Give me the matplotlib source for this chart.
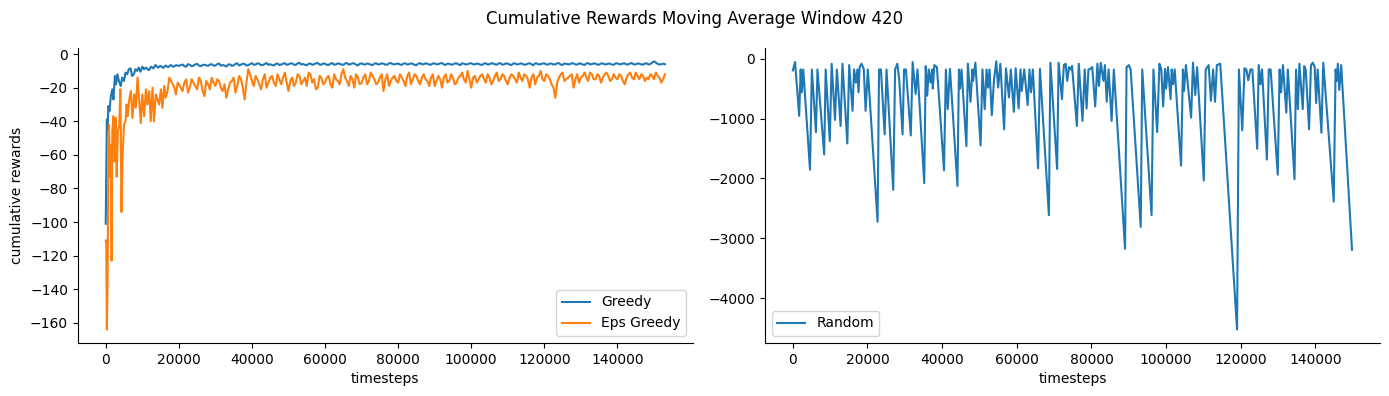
import numpy as np
import matplotlib
matplotlib.use("Agg")
import matplotlib.pyplot as plt

# ---------------- data (timesteps in thousands) ----------------
greedy_early_k = [0, 0.3, 0.5, 0.7, 1.0, 1.4, 1.8, 2.1, 2.5, 2.8, 3.2, 3.6, 4.1, 4.5, 5.0, 5.4,
                  5.9, 6.3, 6.8, 7.2, 7.7, 8.1, 8.6, 9.0, 9.5, 10.0, 10.5, 11.0, 11.8, 12.4,
                  13.0, 13.6, 14.3, 15.0, 15.7, 16.4, 17.1, 17.8, 18.5, 19.2]
greedy_early = [-101, -39, -45, -31, -34, -25, -21, -27, -13, -18, -12, -16, -19, -14, -16, -11,
                -12, -9, -8.5, -13, -12, -9, -10, -8, -10.5, -7.5, -9, -8, -9.6, -7.5,
                -8.5, -6.5, -8, -7, -8.2, -6.8, -7.8, -6.5, -7.6, -6.6]

eps_early_k = [0, 0.15, 0.3, 0.5, 0.7, 0.9, 1.1, 1.4, 1.6, 1.8, 2.1, 2.4, 2.7, 3.0, 3.3, 3.7,
               4.0, 4.3, 4.6, 5.0, 5.4, 5.7, 6.0, 6.5, 6.9, 7.3, 7.8, 8.2, 8.7, 9.1, 9.6,
               10.0, 10.5, 11.0, 11.4, 11.9, 12.3, 12.8, 13.2, 13.7, 14.6, 15.1, 15.5,
               16.0, 16.4, 16.9, 17.4, 18.1, 18.8, 19.2, 19.7]
eps_early = [-111, -113, -164, -137, -67, -42, -73, -54, -123, -46, -37, -64, -38, -73, -46, -42,
             -21, -94, -60, -42, -40, -30, -37, -26, -22, -38, -24, -32, -14, -26, -41,
             -24, -37, -21, -30, -22, -40, -20, -40, -24, -30, -21, -32,
             -19, -26, -22, -14, -17, -20, -24, -17]

late_k = [20, 21, 22, 23, 24, 25, 26, 27, 28, 29, 30, 31, 32, 33, 34, 35, 36, 37, 38, 39,
          40, 41, 42, 43, 44, 45, 46, 47, 48, 49, 50, 51, 52, 53, 54, 55, 56, 57, 58, 59,
          60, 61, 62, 63, 64, 65, 66, 67, 68, 69, 70, 71, 72, 73, 74, 75, 76, 77, 78, 79,
          80, 81, 82, 83, 84, 85, 86, 87, 88, 89, 90, 91, 92, 93, 94, 95, 96, 97, 98, 99,
          100, 101, 102, 103, 104, 105, 106, 107, 108, 109, 110, 111, 112, 113, 114, 115,
          116, 117, 118, 119, 120, 121, 122, 123, 124, 125, 126, 127, 128, 129, 130, 131,
          132, 133, 134, 135, 136, 137, 138, 139, 140, 141, 142, 143, 144, 145, 146, 147,
          148, 149, 150, 151, 152, 153]

half_k = [20.5, 21.5, 22.5, 23.5, 24.5, 25.5, 26.5, 27.5, 28.5, 29.5, 30.5, 31.5, 32.5, 33.5,
          34.5, 35.5, 36.5, 37.5, 38.5, 39.5, 40.5, 41.5, 42.5, 43.5, 44.5, 45.5, 46.5, 47.5,
          48.5, 49.5, 50.5, 51.5, 52.5, 53.5, 54.5, 55.5, 56.5, 57.5, 58.5, 59.5, 60.5, 61.5,
          62.5, 63.5, 64.5, 65.5, 66.5, 67.5, 68.5, 69.5, 70.5, 71.5, 72.5, 73.5, 74.5, 75.5,
          76.5, 77.5, 78.5, 79.5, 80.5, 81.5, 82.5, 83.5, 84.5, 85.5, 86.5, 87.5, 88.5, 89.5,
          90.5, 91.5, 92.5, 93.5, 94.5, 95.5, 96.5, 97.5, 98.5, 99.5, 100.5, 101.5, 102.5,
          103.5, 104.5, 105.5, 106.5, 107.5, 108.5, 109.5, 110.5, 111.5, 112.5, 113.5, 114.5,
          115.5, 116.5, 117.5, 118.5, 119.5, 120.5, 121.5, 122.5, 123.5, 124.5, 125.5, 126.5,
          127.5, 128.5, 129.5, 130.5, 131.5, 132.5, 133.5, 134.5, 135.5, 136.5, 137.5, 138.5,
          139.5, 140.5, 141.5, 142.5, 143.5, 144.5, 145.5, 146.5, 147.5, 148.5, 149.5, 150.5,
          151.5, 152.5]

greedy_late = [-7.0, -6.2, -7.5, -6.4, -6.9, -5.8, -7.2, -6.3, -7.0, -6.0,
               -6.8, -5.6, -6.5, -7.4, -6.1, -6.7, -5.5, -6.3, -5.9, -6.6,
               -5.4, -6.2, -5.7, -6.5, -5.3, -6.0, -6.8, -5.6, -6.2, -5.4,
               -6.1, -5.5, -6.4, -5.2, -5.9, -6.6, -5.6, -6.0, -5.3, -6.3,
               -5.7, -6.5, -5.4, -6.1, -5.8, -6.4, -5.3, -6.0, -5.6, -6.7,
               -5.5, -6.2, -5.8, -6.5, -5.4, -6.0, -5.7, -6.3, -5.3, -6.1,
               -5.6, -6.4, -5.5, -6.0, -5.8, -6.6, -5.4, -6.1, -5.7, -6.3,
               -5.5, -6.0, -5.3, -6.4, -5.8, -6.1, -5.5, -6.5, -5.7, -6.0,
               -5.4, -6.2, -5.8, -6.4, -5.5, -6.0, -5.6, -6.3, -5.4, -6.1,
               -5.7, -6.5, -5.5, -6.0, -5.8, -6.2, -5.4, -6.6, -5.6, -6.0,
               -5.5, -6.3, -5.7, -6.1, -5.4, -6.4, -5.8, -6.0, -5.5, -6.2,
               -5.6, -6.5, -5.4, -6.0, -5.7, -6.3, -5.5, -6.1, -5.8, -6.4,
               -5.5, -6.0, -5.6, -6.2, -5.4, -6.1, -5.7, -6.3, -5.5, -5.9,
               -4.3, -5.8, -6.1, -6.0]

greedy_half = [-6.6, -7.1, -6.0, -7.2, -6.1, -6.8, -6.5, -6.7, -6.2, -6.9,
               -6.0, -6.9, -6.8, -6.2, -7.0, -5.8, -6.8, -5.7, -6.8, -5.9,
               -6.3, -5.5, -6.6, -5.9, -6.4, -6.5, -5.9, -6.5, -5.7, -6.4,
               -5.6, -6.3, -5.5, -6.2, -6.4, -5.8, -6.4, -5.5, -6.2, -5.6,
               -6.4, -5.6, -6.3, -5.5, -6.2, -5.6, -6.3, -5.5, -6.3, -5.8,
               -6.1, -5.6, -6.3, -5.7, -6.2, -5.5, -6.3, -5.5, -6.0, -5.8,
               -6.2, -5.6, -6.2, -5.5, -6.4, -5.7, -6.0, -5.5, -6.2, -5.6,
               -6.1, -5.5, -6.2, -5.7, -6.3, -5.6, -6.1, -5.5, -6.2, -5.6,
               -6.0, -5.6, -6.3, -5.6, -6.2, -5.5, -6.1, -5.6, -6.3, -5.5,
               -6.2, -5.6, -6.2, -5.5, -6.3, -5.7, -6.1, -5.5, -6.2, -5.6,
               -6.1, -5.6, -6.2, -5.5, -6.3, -5.6, -6.1, -5.5, -6.2, -5.6,
               -6.2, -5.6, -6.1, -5.5, -6.2, -5.6, -6.1, -5.6, -6.2, -5.5,
               -6.1, -5.6, -6.1, -5.5, -6.2, -5.6, -6.1, -5.6, -6.2, -5.1,
               -5.0, -6.2, -5.7]

eps_late = [-18, -22, -15, -20, -17, -21, -16, -25, -18, -14,
            -19, -16, -22, -26, -17, -14, -19, -15, -27, -9,
            -16, -13, -18, -15, -20, -14, -17, -12, -18, -11,
            -22, -14, -17, -13, -16, -19, -12, -15, -20, -14,
            -17, -13, -20, -15, -18, -9, -16, -13, -20, -14,
            -17, -12, -16, -13, -18, -14, -22, -12, -16, -13,
            -17, -14, -19, -11, -15, -13, -18, -12, -16, -14,
            -19, -13, -20, -12, -16, -14, -17, -13, -15, -10,
            -20, -13, -15, -12, -17, -14, -16, -11, -15, -13,
            -18, -12, -15, -11, -16, -13, -20, -12, -14, -10,
            -16, -13, -18, -26, -14, -11, -15, -13, -20, -12,
            -14, -11, -16, -12, -15, -13, -14, -11, -16, -12,
            -15, -13, -18, -12, -14, -11, -15, -13, -14, -12,
            -15, -13, -17, -12]

eps_half = [-20, -17, -23, -15, -19, -14, -22, -16, -21, -17,
            -15, -20, -18, -21, -16, -23, -13, -20, -17, -12,
            -19, -15, -21, -12, -17, -13, -19, -15, -14, -17,
            -16, -19, -12, -18, -14, -11, -17, -21, -13, -18,
            -14, -18, -12, -16, -12, -14, -19, -15, -12, -18,
            -14, -18, -11, -15, -17, -12, -15, -19, -14, -16,
            -12, -16, -13, -18, -12, -16, -14, -15, -19, -12,
            -16, -15, -14, -17, -12, -18, -14, -11, -17, -15,
            -14, -17, -13, -15, -12, -18, -13, -16, -12, -16,
            -14, -13, -17, -14, -12, -15, -14, -18, -13, -15,
            -12, -15, -20, -17, -12, -16, -14, -12, -15, -17,
            -13, -14, -11, -15, -12, -17, -12, -13, -15, -14,
            -12, -16, -14, -11, -15, -13, -12, -16, -15, -13,
            -11, -14, -15]

random_k = [0, 0.6, 1.7, 2.1, 2.4, 2.8, 4.6, 5.1, 6.2, 6.6, 8.4, 8.8, 9.9, 10.4, 11.3, 11.8,
            12.8, 13.3, 14.6, 15.1, 16.0, 16.4, 16.9, 17.3, 17.6, 17.9, 18.4, 19.0, 19.5, 20.1,
            22.7, 23.1, 23.6, 24.6, 25.1, 26.9, 27.4, 28.0, 28.5, 29.4, 29.8, 30.3, 30.5, 31.6,
            32.1, 32.9, 33.4, 35.2, 35.6, 36.0, 36.4, 36.9, 37.3, 37.5, 37.9, 38.6, 40.5, 41.0,
            41.5, 42.1, 44.1, 44.5, 44.8, 45.2, 46.5, 46.9, 47.6, 48.1, 48.3, 48.9, 50.3, 50.8,
            51.4, 51.9, 52.3, 52.7, 53.3, 53.9, 54.5, 55.0, 55.6, 56.6, 57.1, 57.9, 58.4, 59.2,
            59.7, 60.5, 61.0, 61.3, 62.0, 62.9, 63.4, 63.8, 64.3, 65.7, 66.2, 68.6, 69.0, 70.8,
            71.2, 72.1, 72.6, 73.1, 73.5, 74.0, 74.5, 74.8, 76.1, 76.6, 77.6, 78.2, 78.7, 79.2,
            79.7, 80.2, 81.0, 81.6, 82.0, 82.5, 83.2, 83.6, 84.1, 84.6, 85.4, 86.0, 89.0, 89.4,
            90.0, 90.5, 93.2, 93.6, 96.1, 96.6, 97.6, 98.2, 98.7, 99.2, 99.7, 100.0, 100.5,
            101.2, 101.5, 101.9, 102.3, 104.0, 104.5, 104.8, 105.3, 106.7, 107.2, 107.8, 108.3,
            110.1, 110.6, 111.4, 112.0, 112.6, 113.1, 113.6, 114.5, 119.0, 119.5, 120.4, 121.0,
            121.5, 122.0, 122.6, 123.1, 124.4, 124.8, 125.3, 125.7, 127.0, 127.5, 128.0, 129.9,
            130.4, 130.8, 131.3, 132.2, 132.6, 134.4, 134.8, 135.3, 135.7, 136.6, 137.0, 137.4,
            138.3, 138.8, 139.3, 139.8, 140.2, 140.6, 141.6, 142.1, 144.9, 145.4, 145.7, 146.0,
            146.4, 146.9, 149.8]
random_rewards = [-197, -56, -955, -180, -562, -180, -1855, -180, -1225, -180, -1600, -180, -1377, -84, -1023, -180,
                  -1124, -84, -1416, -107, -871, -180, -400, -180, -562, -140, -84, -170, -871, -180,
                  -2725, -180, -180, -1265, -180, -2192, -180, -84, -353, -1265, -180, -180, -350, -1282,
                  -56, -590, -180, -2080, -124, -618, -180, -400, -180, -500, -107, -140, -1866, -180,
                  -843, -170, -2125, -180, -500, -180, -1462, -84, -720, -180, -370, -67, -1450, -180,
                  -843, -180, -483, -180, -944, -350, -44, -483, -84, -1180, -160, -646, -180, -888,
                  -160, -832, -180, -540, -180, -776, -180, -562, -180, -1830, -170, -2614, -67, -1843,
                  -67, -675, -107, -84, -370, -140, -180, -120, -1124, -84, -1040, -180, -832, -180,
                  -170, -140, -798, -84, -455, -67, -370, -107, -720, -180, -1040, -180, -3176, -140,
                  -107, -180, -2810, -180, -2614, -180, -1225, -84, -170, -798, -170, -500, -140,
                  -675, -180, -427, -180, -1787, -180, -540, -107, -984, -67, -607, -140,
                  -2035, -180, -107, -703, -180, -720, -107, -84, -4525, -180, -1197, -160,
                  -180, -360, -180, -180, -1506, -107, -427, -180, -1686, -180, -180, -1939,
                  -180, -562, -107, -900, -180, -2012, -180, -843, -84, -843, -124, -180,
                  -1180, -107, -67, -140, -742, -180, -1237, -67, -2389, -180, -370, -84,
                  -523, -107, -3193]

title = "Cumulative Rewards Moving Average Window 420"


# ---------------- plotting ----------------
def merged(early_k, early_v, a_k, a_v, b_k, b_v):
    pairs = sorted(zip(a_k + b_k, a_v + b_v))
    ks = early_k + [p[0] for p in pairs]
    vs = early_v + [p[1] for p in pairs]
    return np.array(ks) * 1000, np.array(vs)


greedy_x, greedy_y = merged(greedy_early_k, greedy_early, late_k, greedy_late, half_k, greedy_half)
eps_x, eps_y = merged(eps_early_k, eps_early, late_k, eps_late, half_k, eps_half)
rand_x = np.array(random_k) * 1000
rand_y = np.array(random_rewards)

fig, (ax1, ax2) = plt.subplots(1, 2, figsize=(13.89, 3.96), dpi=100)
fig.subplots_adjust(left=0.056, right=0.9935, top=0.879, bottom=0.134, wspace=0.117)

ax1.plot(greedy_x, greedy_y, color="#1f77b4", label="Greedy")
ax1.plot(eps_x, eps_y, color="#ff7f0e", label="Eps Greedy")
ax1.set_xlabel("timesteps")
ax1.set_ylabel("cumulative rewards")
ax1.set_xticks([0, 20000, 40000, 60000, 80000, 100000, 120000, 140000])
ax1.set_yticks([0, -20, -40, -60, -80, -100, -120, -140, -160])
ax1.legend(loc="lower right")

ax2.plot(rand_x, rand_y, color="#1f77b4", label="Random")
ax2.set_xlabel("timesteps")
ax2.set_xticks([0, 20000, 40000, 60000, 80000, 100000, 120000, 140000])
ax2.legend(loc="lower left")

for ax in (ax1, ax2):
    ax.spines["top"].set_visible(False)
    ax.spines["right"].set_visible(False)

fig.suptitle(title, fontsize=12, y=0.975)
fig.savefig("out.png", dpi=100)
